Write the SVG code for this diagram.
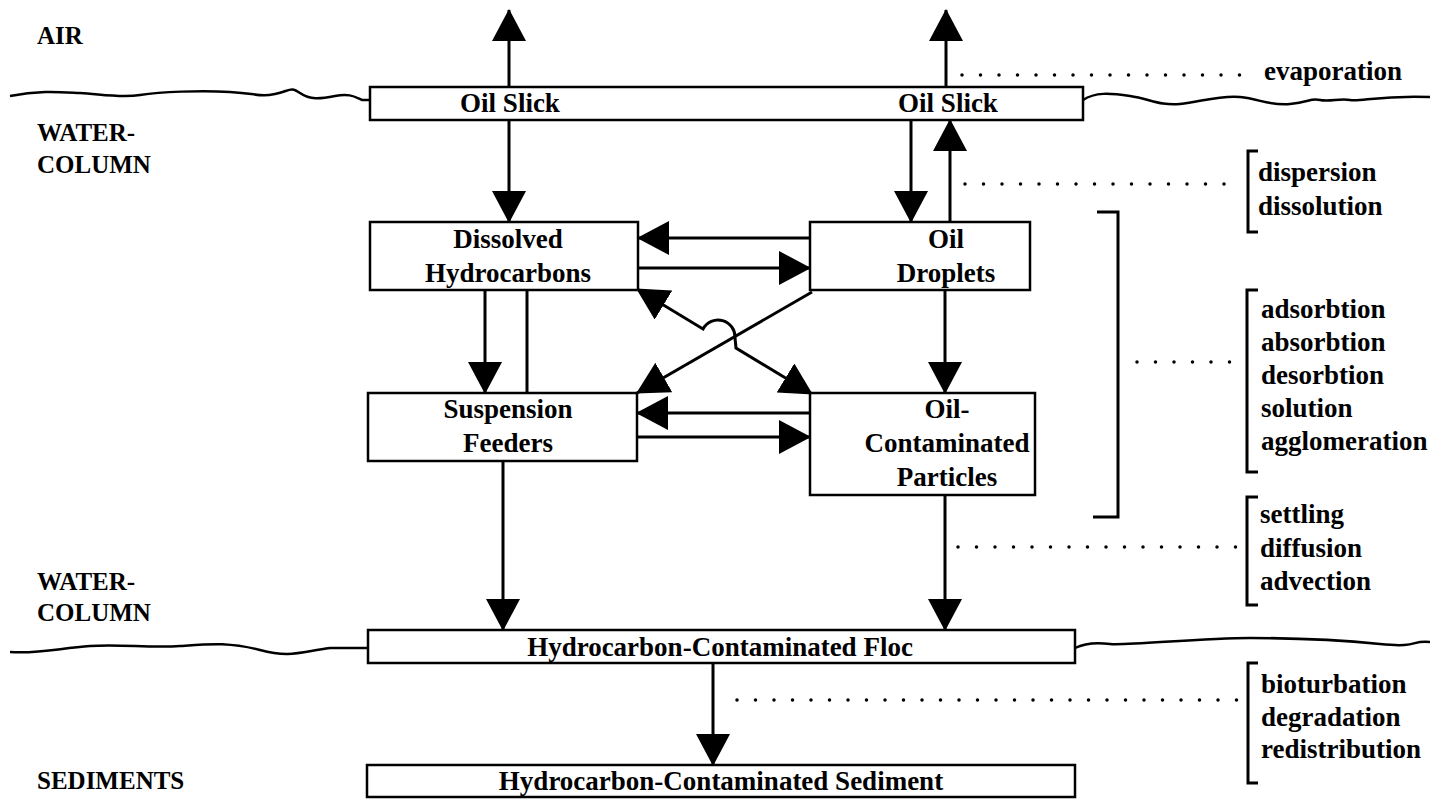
<svg xmlns="http://www.w3.org/2000/svg" width="1430" height="801" viewBox="0 0 1430 801">
<defs>
<style>
.box{fill:#fff;stroke:#000;stroke-width:2.5}
.t{font-family:"Liberation Serif","Times New Roman",serif;font-weight:bold;font-size:27px;fill:#000;text-anchor:middle}
.lab{font-family:"Liberation Serif","Times New Roman",serif;font-weight:bold;font-size:25px;fill:#000}
.pr{font-family:"Liberation Serif","Times New Roman",serif;font-weight:bold;font-size:27px;fill:#000}
.ln{fill:none;stroke:#000;stroke-width:3}
.ar{fill:none;stroke:#000;stroke-width:3;marker-end:url(#ah)}
.wave{fill:none;stroke:#000;stroke-width:2.5}
.dot{fill:none;stroke:#000;stroke-width:3.5;stroke-linecap:round;stroke-dasharray:0 18.5}
.br{fill:none;stroke:#000;stroke-width:3}
</style>
<marker id="ah" viewBox="0 0 32 34" refX="31" refY="17" markerWidth="32" markerHeight="34" markerUnits="userSpaceOnUse" orient="auto-start-reverse">
<path d="M0,0 L32,17 L0,34 z" fill="#000"/>
</marker>
</defs>

<g id="zones">
<text class="lab" x="37" y="44">AIR</text>
<text class="lab" x="37" y="141">WATER-</text>
<text class="lab" x="37" y="173">COLUMN</text>
<text class="lab" x="37" y="590">WATER-</text>
<text class="lab" x="37" y="621">COLUMN</text>
<text class="lab" x="37" y="789">SEDIMENTS</text>
<path class="wave" d="M10,96 C40,90 60,92 80,93 S120,98 140,95 S200,90 230,92 S260,97 275,94 S290,86 300,93 S320,99 335,96 S355,97 362,100 L370,100"/>
<path class="wave" d="M1083,100 C1095,92 1110,93 1130,96 S1160,106 1180,104 S1220,95 1240,97 S1270,106 1290,104 S1310,98 1320,100 S1340,98 1350,100 S1380,95 1430,97"/>
<path class="wave" d="M10,652 C40,654 60,648 90,646 S150,648 180,646 S230,642 260,650 S300,652 330,648 L368,648"/>
<path class="wave" d="M1075,648 C1085,643 1095,642 1110,644 S1200,638 1250,638 S1340,640 1380,644 S1410,640 1430,642"/>
</g>

<g id="connectors">
<line class="ar" x1="509" y1="87" x2="509" y2="10"/>
<line class="ar" x1="946" y1="87" x2="946" y2="10"/>
<line class="ar" x1="509" y1="120" x2="509" y2="222"/>
<line class="ar" x1="911" y1="120" x2="911" y2="222"/>
<line class="ar" x1="950" y1="222" x2="950" y2="120"/>
<line class="ar" x1="810" y1="238" x2="638" y2="238"/>
<line class="ar" x1="638" y1="268" x2="810" y2="268"/>
<line class="ar" x1="485" y1="290" x2="485" y2="393"/>
<line class="ln" x1="527" y1="290" x2="527" y2="393"/>
<line class="ar" x1="812" y1="292" x2="637" y2="393"/>
<path class="ar" style="marker-start:url(#ah)" d="M637,289 L703,329 A17,17 0 0 1 735,338 L736,348 L812,394"/>
<line class="ar" x1="810" y1="413" x2="637" y2="413"/>
<line class="ar" x1="637" y1="437" x2="810" y2="437"/>
<line class="ar" x1="945" y1="290" x2="945" y2="393"/>
<line class="ar" x1="503" y1="461" x2="503" y2="630"/>
<line class="ar" x1="945" y1="495" x2="945" y2="630"/>
<line class="ar" x1="713" y1="662" x2="713" y2="765"/>
</g>

<g id="oil-slick">
<rect class="box" x="370" y="87" width="713" height="33"/>
<text class="t" x="510" y="112">Oil Slick</text>
<text class="t" x="948" y="112">Oil Slick</text>
</g>
<g id="dissolved-hydrocarbons">
<rect class="box" x="370" y="222" width="268" height="68"/>
<text class="t" x="508" y="248">Dissolved</text>
<text class="t" x="508" y="282">Hydrocarbons</text>
</g>
<g id="oil-droplets">
<rect class="box" x="810" y="222" width="220" height="68"/>
<text class="t" x="946" y="248">Oil</text>
<text class="t" x="946" y="282">Droplets</text>
</g>
<g id="suspension-feeders">
<rect class="box" x="368" y="393" width="269" height="68"/>
<text class="t" x="508" y="418">Suspension</text>
<text class="t" x="508" y="452">Feeders</text>
</g>
<g id="oil-contaminated-particles">
<rect class="box" x="810" y="393" width="225" height="102"/>
<text class="t" x="947" y="418">Oil-</text>
<text class="t" x="947" y="452">Contaminated</text>
<text class="t" x="947" y="486">Particles</text>
</g>
<g id="floc">
<rect class="box" x="368" y="630" width="707" height="33"/>
<text class="t" x="720" y="656">Hydrocarbon-Contaminated Floc</text>
</g>
<g id="sediment">
<rect class="box" x="367" y="765" width="708" height="32"/>
<text class="t" x="721" y="790">Hydrocarbon-Contaminated Sediment</text>
</g>

<g id="processes">
<line class="dot" x1="962" y1="75" x2="1256" y2="75"/>
<text class="pr" x="1264" y="80">evaporation</text>
<line class="dot" x1="965" y1="184" x2="1238" y2="184"/>
<path class="br" d="M1258,151 L1248,151 L1248,232 L1258,232"/>
<text class="pr" x="1258" y="181">dispersion</text>
<text class="pr" x="1258" y="215">dissolution</text>
<path class="br" d="M1097,212 L1118,212 L1118,517 L1093,517"/>
<line class="dot" x1="1137" y1="362" x2="1238" y2="362"/>
<path class="br" d="M1258,290 L1247,290 L1247,472 L1258,472"/>
<text class="pr" x="1261" y="318">adsorbtion</text>
<text class="pr" x="1261" y="351">absorbtion</text>
<text class="pr" x="1261" y="384">desorbtion</text>
<text class="pr" x="1261" y="417">solution</text>
<text class="pr" x="1261" y="450">agglomeration</text>
<line class="dot" x1="958" y1="547" x2="1238" y2="547"/>
<path class="br" d="M1258,497 L1247,497 L1247,605 L1258,605"/>
<text class="pr" x="1260" y="523">settling</text>
<text class="pr" x="1260" y="557">diffusion</text>
<text class="pr" x="1260" y="590">advection</text>
<line class="dot" x1="737" y1="700" x2="1240" y2="700"/>
<path class="br" d="M1258,663 L1248,663 L1248,783 L1258,783"/>
<text class="pr" x="1261" y="693">bioturbation</text>
<text class="pr" x="1261" y="726">degradation</text>
<text class="pr" x="1261" y="758">redistribution</text>
</g>
</svg>
